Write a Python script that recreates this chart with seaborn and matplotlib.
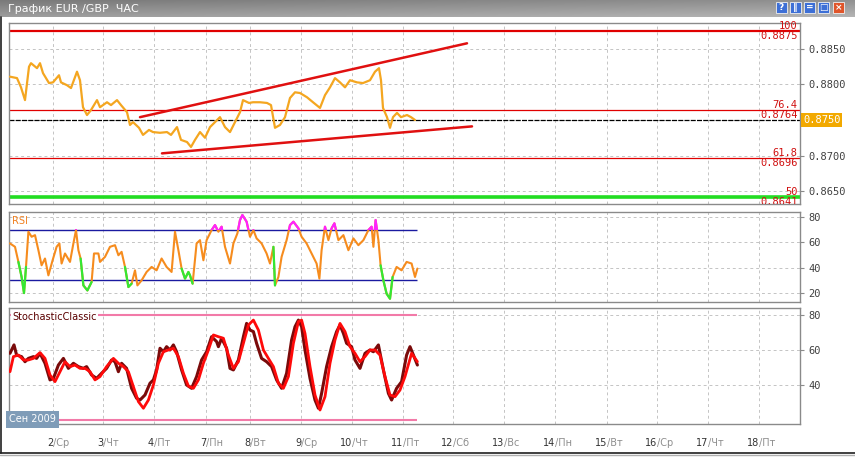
import numpy as np
import pandas as pd
import seaborn as sns
import matplotlib.pyplot as plt
import matplotlib.transforms as mtransforms
from matplotlib.patches import Rectangle
from matplotlib.colors import LinearSegmentedColormap

sns.set_style('white')
plt.rcParams['font.family'] = ['DejaVu Sans']

# ---- data (x = hour bars since start) ----
price_bar = [0.5, 4, 6, 8, 10, 11, 14, 15.5, 17, 20, 22, 25, 26, 29, 31, 34, 35.5, 37, 39, 41,
             44, 45.5, 49, 51, 54, 56, 59, 60.5, 62, 65, 67, 70, 72, 75.5, 79, 81, 84, 86, 89, 91,
             93, 95.5, 98, 100.5, 103, 105.5, 108, 110.5, 113, 115.5, 117, 120, 122, 125.5, 129,
             131, 133, 135.5, 138, 140.5, 143, 145.5, 149, 152, 155.5, 158, 160.5, 163, 165.5, 168,
             170.5, 174, 177, 180.5, 183, 185, 186, 187, 189, 190.5, 192, 194, 196, 199, 201, 203]
price_close = [0.8811, 0.8809, 0.8796, 0.8778, 0.8825, 0.8830, 0.8823, 0.8830, 0.8816, 0.8802,
               0.8803, 0.8813, 0.8803, 0.8799, 0.8795, 0.8818, 0.8806, 0.8768, 0.8757, 0.8764,
               0.8778, 0.8768, 0.8775, 0.8771, 0.8778, 0.8771, 0.8761, 0.8743, 0.8747, 0.8739,
               0.8729, 0.8736, 0.8733, 0.8732, 0.8733, 0.8729, 0.8740, 0.8722, 0.8719, 0.8712,
               0.8722, 0.8733, 0.8725, 0.8740, 0.8747, 0.8754, 0.8740, 0.8733, 0.8747, 0.8761,
               0.8778, 0.8774, 0.8775, 0.8775, 0.8774, 0.8771, 0.8739, 0.8743, 0.8754, 0.8781,
               0.8789, 0.8788, 0.8782, 0.8775, 0.8767, 0.8785, 0.8796, 0.8809, 0.8803, 0.8796,
               0.8806, 0.8803, 0.8802, 0.8806, 0.8818, 0.8823, 0.8806, 0.8767, 0.8754, 0.8739,
               0.8754, 0.8760, 0.8754, 0.8757, 0.8754, 0.8750]
last_price = 0.8750

trend_up_bar = [65.5, 229]
trend_up_price = [0.8754, 0.8858]
trend_lo_bar = [76.5, 231.5]
trend_lo_price = [0.8703, 0.8741]

fib_pct = ['100', '76.4', '61.8', '50']
fib_price = [0.8875, 0.8764, 0.8696, 0.8641]
fib_width = [1.6, 0.9, 0.9, 0.8]
green_level = 0.8642

rsi_bar = [0.5, 3, 4.7, 6.3, 7.5, 8.5, 9.7, 11.3, 13, 14.7, 16.3, 18, 19.7, 21.8, 23.8, 25.2,
           26.3, 28, 30.5, 32.2, 33.5, 34.7, 35.8, 37.2, 39.2, 41.3, 42.5, 44.7, 45.5, 48, 50.5,
           53, 54.7, 56.3, 58, 59.7, 61.3, 63, 64.2, 66.3, 68.8, 71.3, 73.8, 76.3, 78.8, 81.3,
           83, 84.7, 86.3, 88, 89.7, 90.5, 91.8, 93.8, 95.5, 97.2, 98.8, 101.3, 103, 104.7,
           106.3, 108, 110.5, 112.2, 114.2, 115.5, 116.7, 118.8, 120.5, 122.2, 123.8, 126.3,
           128.8, 130.5, 132.2, 133, 134.7, 136.3, 138.8, 140.5, 142.2, 144.7, 146.3, 148.8,
           151.3, 153.8, 155.2, 156.3, 158, 159.7, 161.3, 162.7, 164.7, 167.2, 169.7, 172.2,
           174.7, 177.2, 179.7, 181.3, 182.2, 183.3, 184.7, 185.8, 187.2, 188.8, 190.5, 191.8,
           193.8, 196.3, 198.8, 201.3, 203, 204.2]
rsi_val = [59.2, 56.5, 44.5, 32.5, 19.7, 40.5, 68.5, 64.5, 65.8, 53.8, 41.8, 47.2, 33.8, 45.8,
           56.5, 59.2, 43.2, 51.2, 44.5, 59.2, 69.8, 53.8, 47.2, 25.8, 21.8, 28.5, 51.2, 51.2,
           44.5, 48.5, 56.5, 57.8, 49.8, 52.5, 40.5, 24.5, 27.2, 37.8, 25.8, 29.8, 36.5, 40.5,
           37.8, 47.2, 40.5, 36.5, 68.5, 53.8, 39.2, 31.2, 36.5, 33.8, 27.2, 59.2, 61.8, 45.8,
           61.8, 69.8, 73.8, 68.5, 72.5, 56.5, 43.2, 59.2, 67.2, 77.8, 81.8, 76.5, 64.5, 69.8,
           63.2, 59.2, 51.2, 43.2, 56.5, 25.8, 32.5, 48.5, 61.8, 73.8, 76.5, 71.2, 64.5, 59.2,
           51.2, 43.2, 31.2, 53.8, 72.5, 61.8, 71.2, 75.2, 61.8, 65.8, 53.8, 63.2, 57.8, 61.8,
           69.8, 72.5, 56.5, 77.8, 61.8, 41.8, 29.8, 19.2, 15.2, 32.5, 40.5, 37.8, 44.5, 43.2,
           32.5, 39.2]
rsi_green_zones = [(4.5, 9), (35.5, 41.5), (57.5, 61.5), (85.5, 92), (132, 133.5), (185.5, 192.5)]
rsi_levels = [30, 70]

stk_bar = [0.5, 2.5, 3.8, 6.3, 8, 9.7, 12.2, 13.8, 15.5, 18, 20.5, 22.2, 24.7, 27.2, 29.7, 32.2,
           34.7, 37.2, 38.8, 41.3, 43.8, 46.3, 48.8, 51.3, 53, 54.7, 56.3, 58.8, 61.3, 63.8, 65.5,
           68, 70.5, 72.2, 73.8, 75.5, 77.2, 78.8, 80.5, 82.2, 83.8, 86.3, 88.8, 91.3, 93.8, 96.3,
           98.8, 101.3, 103.8, 104.7, 106.3, 108.8, 110.5, 112.2, 114.7, 117.2, 118.8, 120.5,
           122.2, 123.8, 126.3, 128.8, 131.3, 133.8, 136.3, 138.8, 141.3, 143, 144.7, 146.3, 148,
           150.5, 153, 154.7, 156.3, 158.8, 161.3, 163.8, 165.5, 167.2, 168.8, 171.3, 173, 175.5,
           178, 180.5, 182.2, 184.7, 187.2, 189.7, 191.3, 193.8, 196.3, 198.8, 200.5, 202.2, 204.2]
stk_val = [58.1, 62.9, 57.1, 56.2, 53.3, 55.2, 56.2, 55.2, 58.1, 52.4, 42.9, 43.8, 51.4, 55.2,
           49.5, 52.4, 50.5, 49.5, 50.5, 45.7, 43.8, 46.7, 49.5, 54.3, 53.3, 47.6, 52.4, 49.5,
           38.1, 32.4, 31.4, 34.3, 41.0, 42.9, 48.6, 61.0, 59.0, 61.9, 60.0, 62.9, 59.0, 48.6,
           40.0, 38.1, 44.8, 54.3, 59.0, 67.6, 64.8, 61.9, 66.7, 61.0, 49.5, 48.6, 54.3, 67.6,
           75.2, 71.4, 70.5, 63.8, 55.2, 53.3, 50.5, 42.9, 38.1, 46.7, 65.7, 73.3, 77.1, 73.3,
           60.0, 43.8, 31.4, 26.7, 35.2, 50.5, 61.9, 70.5, 74.3, 69.5, 63.8, 61.9, 54.3, 49.5,
           58.1, 60.0, 59.0, 62.9, 48.6, 35.2, 31.4, 38.1, 41.9, 57.1, 61.9, 57.1, 51.4]
sig_bar = [0.5, 2.2, 4.7, 7.2, 9.7, 12.2, 15.5, 18, 20.5, 23, 25.5, 28, 30.5, 33, 35.5, 38, 40.5,
           43, 45.5, 48.8, 52.2, 54.7, 57.2, 59.7, 62.2, 64.7, 67.2, 69.7, 72.2, 74.7, 77.2, 79.7,
           82.2, 84.7, 87.2, 89.7, 92.2, 94.7, 97.2, 99.7, 102.2, 104.7, 107.2, 109.7, 112.2,
           114.7, 117.2, 119.7, 122.2, 124.7, 127.2, 129.7, 132.2, 134.7, 137.2, 139.7, 142.2,
           144.7, 146.3, 148, 150.5, 153, 155.5, 158, 160.5, 163, 165.5, 168, 170.5, 173, 175.5,
           178, 180.5, 183, 185.5, 188, 190.5, 193, 195.5, 198, 201.3, 204.2]
sig_val = [47.6, 56.2, 57.1, 54.3, 54.3, 55.2, 58.5, 55.2, 45.7, 41.9, 47.6, 53.3, 50.5, 51.4,
           49.5, 49.5, 47.6, 42.9, 44.8, 50.5, 55.2, 52.4, 50.5, 47.6, 39.0, 30.5, 26.7, 31.4,
           40.0, 52.4, 59.0, 60.0, 61.0, 56.2, 46.7, 39.4, 38.1, 42.9, 52.4, 60.0, 68.6, 67.6,
           66.7, 57.1, 49.5, 53.3, 63.8, 74.3, 77.1, 71.4, 60.0, 55.2, 50.5, 41.0, 38.1, 44.8,
           63.8, 76.2, 77.1, 69.5, 50.5, 34.3, 25.7, 33.3, 52.4, 65.7, 75.2, 70.5, 61.9, 58.1,
           53.3, 56.2, 60.0, 60.0, 57.1, 44.8, 34.3, 33.3, 37.1, 44.8, 58.1, 53.3]
stk_levels = [20, 80]

tick_bars = [22, 47, 72.5, 98.5, 120.5, 146, 171.5, 197, 222, 247.5, 273, 299, 324, 349.5, 375]
day_nums = ['2', '3', '4', '7', '8', '9', '10', '11', '12', '13', '14', '15', '16', '17', '18']
day_names = ['Ср', 'Чт', 'Пт', 'Пн', 'Вт', 'Ср', 'Чт', 'Пт', 'Сб', 'Вс', 'Пн', 'Вт', 'Ср', 'Чт', 'Пт']
price_ticks = [0.8650, 0.8700, 0.8750, 0.8800, 0.8850]
rsi_ticks = [20, 40, 60, 80]
stk_ticks = [40, 60, 80]

# ---- layout ----
W, H = 855, 458
fig = plt.figure(figsize=(W / 100, H / 100), dpi=100)
fig.patch.set_facecolor('white')


def box(l, t, r, b):
    return [l / W, 1 - b / H, (r - l) / W, (b - t) / H]


ax1 = fig.add_axes(box(9, 23, 800, 204))
ax2 = fig.add_axes(box(9, 212, 800, 302))
ax3 = fig.add_axes(box(9, 308, 800, 424))

mono = 'DejaVu Sans Mono'
for ax in (ax1, ax2, ax3):
    ax.set_xlim(0, 395.5)
    ax.set_xticks(tick_bars)
    ax.set_axisbelow(True)
    ax.grid(True, ls=(0, (3, 3)), color='#c4c4c4', lw=0.7)
    for s in ax.spines.values():
        s.set_color('#8a8a8a')
        s.set_linewidth(1)
    ax.tick_params(axis='x', labelbottom=False, length=0)
    ax.tick_params(axis='y', left=False, labelleft=False, right=True, labelright=True,
                   length=3, color='#8a8a8a', labelsize=7.5, labelcolor='#404040', pad=3)
    ax.set_facecolor('white')
ax3.tick_params(axis='x', length=3, color='#8a8a8a', direction='out')

# ---- price panel ----
ax1.set_ylim(0.86317, 0.88866)
# the current-price box takes the place of its own tick label
ax1.set_yticks(price_ticks, labels=['' if v == last_price else '%.4f' % v for v in price_ticks],
               fontfamily=mono)
trans1 = mtransforms.blended_transform_factory(ax1.transAxes, ax1.transData)
for pct, lev, lw in zip(fib_pct, fib_price, fib_width):
    col = '#e00000' if pct != '50' else '#a02000'
    ax1.axhline(lev, color=col, lw=lw, zorder=2)
    ax1.text(0.997, lev, pct, transform=trans1, ha='right', va='bottom', fontsize=7.5,
             color='#d01010', family=mono)
    ax1.text(0.997, lev, '%.4f' % lev, transform=trans1, ha='right', va='top', fontsize=7.5,
             color='#d01010', family=mono, clip_on=True)
ax1.axhline(green_level, color='#22dd22', lw=2.6, zorder=2)
ax1.axhline(last_price, color='black', lw=0.9, ls=(0, (4, 1)), zorder=2)

sns.lineplot(x=price_bar, y=price_close, ax=ax1, color='#f4a620', lw=1.6,
             estimator=None, errorbar=None, zorder=3)
sns.lineplot(x=trend_up_bar, y=trend_up_price, ax=ax1, color='#e01010', lw=1.8,
             estimator=None, errorbar=None, zorder=4)
sns.lineplot(x=trend_lo_bar, y=trend_lo_price, ax=ax1, color='#e01010', lw=1.8,
             estimator=None, errorbar=None, zorder=4)
ax1.text(1.004, last_price, '%.4f' % last_price, transform=trans1, ha='left', va='center',
         fontsize=7.5, color='white', family=mono, zorder=10,
         bbox=dict(fc='#f2a900', ec='none', pad=1.2))

# ---- RSI panel ----
ax2.set_ylim(12.6, 84.2)
ax2.set_yticks(rsi_ticks, labels=[str(v) for v in rsi_ticks], fontfamily=mono)
ax2.hlines(rsi_levels, 0, rsi_bar[-1], color='#1a1aa0', lw=1, zorder=2)
rsi = pd.DataFrame({'bar': rsi_bar, 'rsi': rsi_val})
sns.lineplot(data=rsi, x='bar', y='rsi', ax=ax2, color='#f68c1e', lw=1.5,
             estimator=None, errorbar=None, zorder=3)
for a, b in rsi_green_zones:
    seg = rsi[(rsi.bar >= a) & (rsi.bar <= b)]
    sns.lineplot(data=seg, x='bar', y='rsi', ax=ax2, color='#33e833', lw=1.6,
                 estimator=None, errorbar=None, zorder=4)
sns.lineplot(data=rsi, x='bar', y='rsi', ax=ax2, color='#ff22ff', lw=1.6,
             estimator=None, errorbar=None, zorder=5)
clip = Rectangle((0, rsi_levels[1]), 400, 40, transform=ax2.transData)
ax2.lines[-1].set_clip_path(clip)
ax2.set_xlabel('')
ax2.set_ylabel('')
ax2.text(0.004, 0.95, 'RSI', transform=ax2.transAxes, ha='left', va='top', fontsize=7,
         color='#f08020')

# ---- Stochastic panel ----
ax3.set_ylim(17.7, 84)
ax3.set_yticks(stk_ticks, labels=[str(v) for v in stk_ticks], fontfamily=mono)
ax3.hlines(stk_levels, 0, stk_bar[-1], color='#f27aa8', lw=1.5, zorder=2)
sns.lineplot(x=stk_bar, y=stk_val, ax=ax3, color='#7a0a0a', lw=2.2,
             estimator=None, errorbar=None, zorder=3)
sns.lineplot(x=sig_bar, y=sig_val, ax=ax3, color='#ff0a0a', lw=2.0,
             estimator=None, errorbar=None, zorder=4)
ax3.text(0.004, 0.965, 'StochasticClassic', transform=ax3.transAxes, ha='left', va='top',
         fontsize=7, color='#5a0000', zorder=6, bbox=dict(fc='white', ec='none', pad=1))
ax3.text(0.0, 0.0, 'Сен 2009', transform=ax3.transAxes, ha='left', va='bottom', fontsize=7,
         color='white', zorder=6, bbox=dict(fc='#7f9cb8', ec='none', pad=2.5))

trans3 = mtransforms.blended_transform_factory(ax3.transData, ax3.transAxes)
for b, d, wd in zip(tick_bars, day_nums, day_names):
    ax3.text(b, -0.165, d, transform=trans3, ha='right', va='center', fontsize=7, color='#333333')
    ax3.text(b, -0.165, '/' + wd, transform=trans3, ha='left', va='center', fontsize=7,
             color='#8e8e8e')

# ---- window chrome ----
axt = fig.add_axes([0, 1 - 17 / H, 1, 17 / H])
gy = np.linspace(0, 1, 20).reshape(-1, 1)
gx = np.linspace(0, 1, 200).reshape(1, -1)
axt.imshow(0.6 * gy + 0.4 * gx, aspect='auto', extent=[0, 1, 0, 1],
           cmap=LinearSegmentedColormap.from_list('bar', ['#7a7a7a', '#b4b4b4']))
axt.axis('off')
axt.text(0.009, 0.5, 'График EUR /GBP  ЧАС', ha='left', va='center', fontsize=8, color='white',
         transform=axt.transAxes)

btn_x = [776, 790, 804, 818, 833]
btn_g = ['?', '‖', '=', '□', '×']
for i, (bx, g) in enumerate(zip(btn_x, btn_g)):
    fc = '#3d6fd6' if i < 4 else '#e0552a'
    fig.add_artist(Rectangle((bx / W, 1 - 13 / H), 11 / W, 11 / H, transform=fig.transFigure,
                             fc=fc, ec='#f0f0f0', lw=0.6))
    fig.text((bx + 5.5) / W, 1 - 7.5 / H, g, ha='center', va='center', fontsize=6.5,
             color='white', fontweight='bold')

fig.add_artist(plt.Line2D([0.6 / W, 0.6 / W], [1 - 453 / H, 1 - 17 / H],
                          transform=fig.transFigure, color='#202020', lw=1.2))
fig.add_artist(plt.Line2D([0, 1], [1 - 453 / H, 1 - 453 / H],
                          transform=fig.transFigure, color='#202020', lw=1.2))
fig.add_artist(plt.Line2D([0, 1], [1 - 455 / H, 1 - 455 / H],
                          transform=fig.transFigure, color='#b0b0b0', lw=1))

fig.savefig('out.png', dpi=100, facecolor=fig.get_facecolor())
